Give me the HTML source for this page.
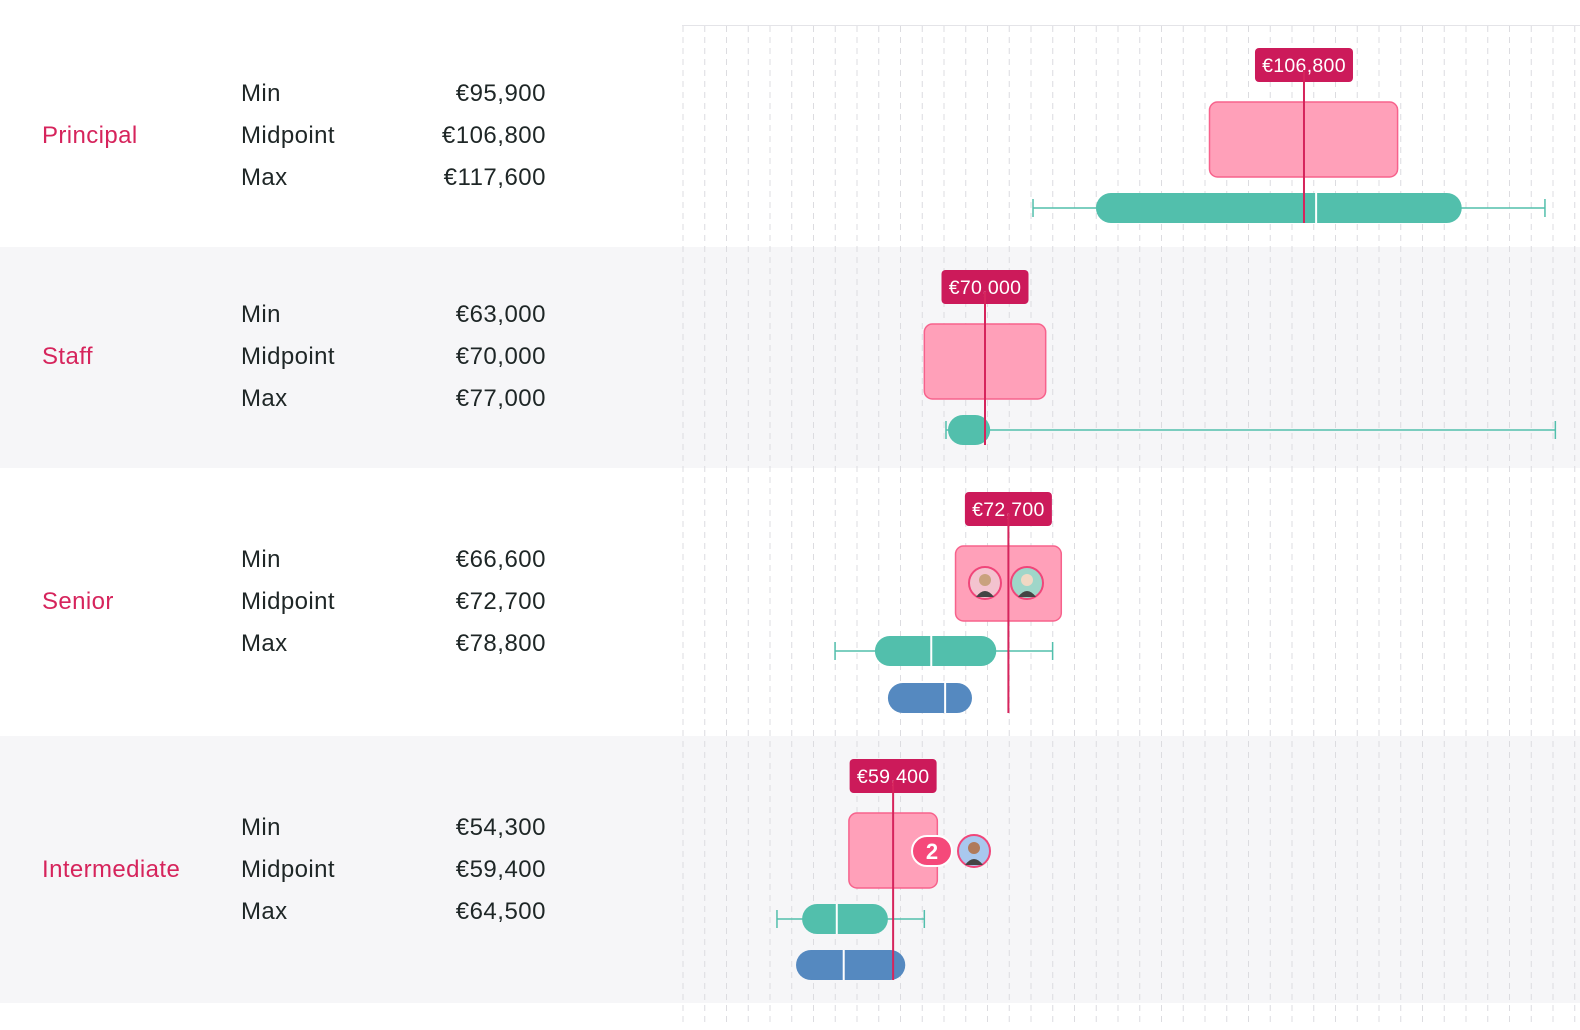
<!DOCTYPE html>
<html><head><meta charset="utf-8"><style>
body{margin:0;width:1580px;height:1030px;background:#fff;font-family:"Liberation Sans",sans-serif;overflow:hidden;position:relative}
.row{position:absolute;left:0;width:1580px}
.cat{position:absolute;left:42px;color:#d6245c;font-size:24px;letter-spacing:0.4px}
.lab{position:absolute;left:241px;color:#1e2626;font-size:24px;letter-spacing:0.4px}
.val{position:absolute;right:1034px;color:#1e2626;font-size:24px;letter-spacing:0.5px;text-align:right}
svg{position:absolute;left:0;top:0}
</style></head><body>
<div class="row" style="top:247px;height:221px;background:#f6f6f8"></div>
<div class="row" style="top:736px;height:267px;background:#f6f6f8"></div>
<div id="tables"></div>
<svg id="chart" width="1580" height="1030"></svg>
<script>
const levels=["Principal","Staff","Senior","Intermediate"];
const mins=[95900,63000,66600,54300];
const mids=[106800,70000,72700,59400];
const maxs=[117600,77000,78800,64500];
const midLabels=["€106,800","€70,000","€72,700","€59,400"];
const minLabels=["€95,900","€63,000","€66,600","€54,300"];
const maxLabels=["€117,600","€77,000","€78,800","€64,500"];
// market (teal): whisker low, box low, median, box high, whisker high
const tealWLo=[75540,65500,52700,46000];
const tealLo=[82800,65730,57300,48900];
const tealMed=[108200,70000,63800,52900];
const tealHi=[125000,70600,71300,58800];
const tealWHi=[134600,135800,77800,63000];
// blue (peer): low, median, high (null = none)
const blueLo=[null,null,58800,48200];
const blueMed=[null,null,65400,53700];
const blueHi=[null,null,68500,60800];

const X=v=>985+(v-70000)*0.008668;
const NS="http://www.w3.org/2000/svg";
const svg=document.getElementById('chart');
function mk(t,a,p){const e=document.createElementNS(NS,t);for(const k in a)e.setAttribute(k,a[k]);(p||svg).appendChild(e);return e;}

// grid
const grid=mk('g',{});


mk('line',{x1:682,x2:1580,y1:25.5,y2:25.5,stroke:'#e4e4e8'},grid);
for(let x=683;x<1575;x+=21.75){mk('line',{x1:x,x2:x,y1:26,y2:1022,stroke:'#dcdce0','stroke-dasharray':'6 5','stroke-width':1},grid);}

// tables
const tb=document.getElementById('tables');
levels.forEach((n,i)=>{
  const cy=[136,357,602,870][i];
  const d=document.createElement('div');d.className='cat';d.textContent=n;d.style.top=(cy-14)+'px';
  
  
  tb.appendChild(d);
  [["Min",minLabels[i],-42],["Midpoint",midLabels[i],0],["Max",maxLabels[i],42]].forEach(([l,v,dy])=>{
    const a=document.createElement('div');a.className='lab';a.textContent=l;a.style.top=(cy+dy-14)+'px';
    
    
    tb.appendChild(a);
    const b=document.createElement('div');b.className='val';b.textContent=v;b.style.top=(cy+dy-14)+'px';
    
    
    tb.appendChild(b);
  });
});

// series
const badgeY=[65,287,509,776],boxY=[102,324,546,813],tealY=[208,430,651,919],blueY=[0,0,698,965];
levels.forEach((n,i)=>{
  const g=mk('g',{});
  
  
  const r=mk('rect',{x:X(mins[i]),y:boxY[i],width:X(maxs[i])-X(mins[i]),height:75,rx:8,fill:'#ffa0b9',stroke:'#f7628c','stroke-width':1.5},g);
  
  
  const ty=tealY[i];
  mk('line',{x1:X(tealWLo[i]),x2:X(tealWHi[i]),y1:ty,y2:ty,stroke:'#52bfac','stroke-width':1.5},g);
  mk('line',{x1:X(tealWLo[i]),x2:X(tealWLo[i]),y1:ty-9,y2:ty+9,stroke:'#52bfac','stroke-width':1.5},g);
  mk('line',{x1:X(tealWHi[i]),x2:X(tealWHi[i]),y1:ty-9,y2:ty+9,stroke:'#52bfac','stroke-width':1.5},g);
  const tb2=mk('rect',{x:X(tealLo[i]),y:ty-15,width:X(tealHi[i])-X(tealLo[i]),height:30,rx:15,fill:'#52bfac'},g);
  
  
  if(tealMed[i]>tealLo[i]+5&&tealMed[i]<tealHi[i]-5) mk('line',{x1:X(tealMed[i]),x2:X(tealMed[i]),y1:ty-15,y2:ty+15,stroke:'#fff','stroke-width':2},g);
  let bottom=ty+15;
  if(blueLo[i]!==null){
    const by=blueY[i];
    const bb=mk('rect',{x:X(blueLo[i]),y:by-15,width:X(blueHi[i])-X(blueLo[i]),height:30,rx:15,fill:'#5589c0'},g);
    
    
    mk('line',{x1:X(blueMed[i]),x2:X(blueMed[i]),y1:by-15,y2:by+15,stroke:'#fff','stroke-width':2},g);
    bottom=by+15;
  }
  const bx=X(mids[i]);
  const bw=midLabels[i].length*11+10;
  const br=mk('rect',{x:bx-bw/2,y:badgeY[i]-17,width:bw,height:34,rx:4,fill:'#cc1a5a'},g);
  
  
  const t=mk('text',{x:bx,y:badgeY[i]+7,'text-anchor':'middle',fill:'#fff','font-size':19.5,'letter-spacing':0.3,'font-family':'Liberation Sans, sans-serif'},g);
  t.textContent=midLabels[i];
  mk('line',{x1:bx,x2:bx,y1:badgeY[i]+5,y2:bottom,stroke:'#d6245c','stroke-width':2},g);
});

function avatar(cx,cy,skin,bg){
  const g=mk('g',{});
  
  
  mk('circle',{cx,cy,r:16,fill:bg,stroke:'#f0467a','stroke-width':2},g);
  mk('circle',{cx,cy:cy-3,r:6,fill:skin},g);
  mk('path',{d:`M${cx-9} ${cy+14} Q${cx} ${cy+2} ${cx+9} ${cy+14} Z`,fill:'#444'},g);
}
avatar(985,583,'#c9a27e','#f3c3cf');
avatar(1027,583,'#f0d8c4','#9fd6c9');
const pill=mk('rect',{x:912,y:836,width:40,height:30,rx:15,fill:'#f5497a',stroke:'#fff','stroke-width':2});


const pt=mk('text',{x:932,y:859,'text-anchor':'middle',fill:'#fff','font-size':22,'font-weight':'bold','font-family':'Liberation Sans, sans-serif'});
pt.textContent='2';
avatar(974,851,'#b07a5a','#a9c8ee');
</script>
</body></html>
